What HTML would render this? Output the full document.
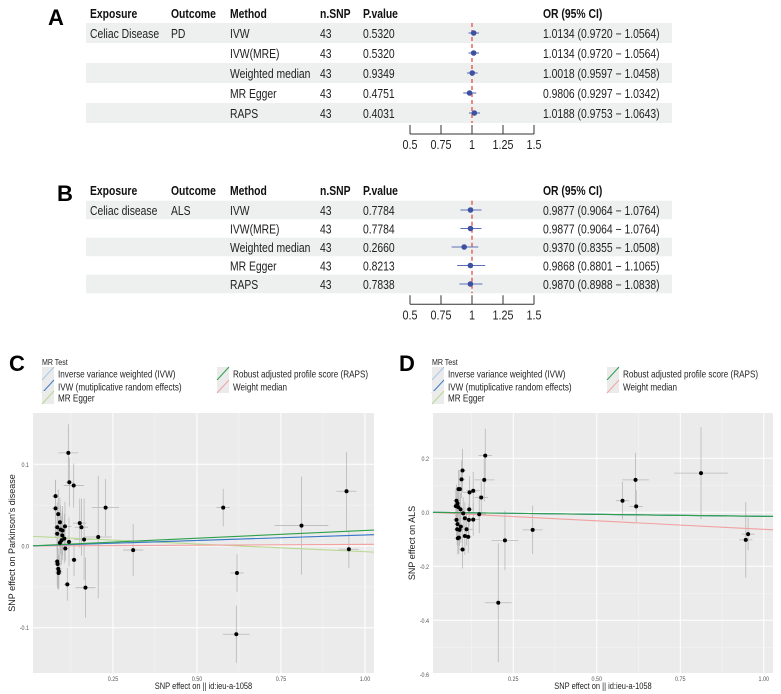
<!DOCTYPE html>
<html><head><meta charset="utf-8">
<style>
html,body{margin:0;padding:0;background:#fff;}
svg{display:block;font-family:"Liberation Sans",Arial,sans-serif;}
</style></head>
<body>
<svg id="fig" width="781" height="694" viewBox="0 0 781 694" xmlns="http://www.w3.org/2000/svg"></svg>
<script>
// ---------- Forest data ----------
const methods = ["IVW","IVW(MRE)","Weighted median","MR Egger","RAPS"];
const nsnpA = [43,43,43,43,43];
const pvalA = ["0.5320","0.5320","0.9349","0.4751","0.4031"];
const orA = [1.0134,1.0134,1.0018,0.9806,1.0188];
const loA = [0.9720,0.9720,0.9597,0.9297,0.9753];
const hiA = [1.0564,1.0564,1.0458,1.0342,1.0643];
const nsnpB = [43,43,43,43,43];
const pvalB = ["0.7784","0.7784","0.2660","0.8213","0.7838"];
const orB = [0.9877,0.9877,0.9370,0.9868,0.9870];
const loB = [0.9064,0.9064,0.8355,0.8801,0.8988];
const hiB = [1.0764,1.0764,1.0508,1.1065,1.0838];
const forestTicks = [0.5,0.75,1,1.25,1.5];

// ---------- Scatter C data ----------
const cx = [0.117,0.12,0.133,0.079,0.079,0.087,0.092,0.084,0.107,0.151,0.156,0.094,0.1,0.084,0.099,0.105,0.097,0.092,0.119,0.164,0.206,0.228,0.108,0.134,0.084,0.085,0.087,0.089,0.088,0.114,0.168,0.31,0.578,0.619,0.617,0.811,0.945,0.952];
const cy = [0.114,0.078,0.074,0.061,0.046,0.039,0.029,0.023,0.024,0.028,0.023,0.020,0.019,0.015,0.013,0.009,0.007,0.004,0.005,0.008,0.011,0.047,-0.003,-0.017,-0.019,-0.022,-0.028,-0.031,-0.033,-0.047,-0.051,-0.005,0.047,-0.033,-0.108,0.025,0.067,-0.004];
const cxe = [0.03,0.01,0.03,0.01,0.01,0.01,0.01,0.01,0.02,0.02,0.02,0.01,0.01,0.01,0.01,0.01,0.01,0.01,0.01,0.03,0.04,0.04,0.01,0.01,0.01,0.01,0.01,0.01,0.01,0.01,0.03,0.03,0.02,0.02,0.04,0.08,0.03,0.03];
const cye = [0.035,0.03,0.027,0.02,0.035,0.03,0.03,0.03,0.03,0.03,0.035,0.03,0.03,0.03,0.03,0.03,0.03,0.03,0.03,0.05,0.075,0.035,0.015,0.02,0.03,0.03,0.025,0.02,0.02,0.02,0.037,0.032,0.023,0.023,0.035,0.06,0.048,0.023];
const linesC = {ivw:[0,0.0135], mre:[0,0.0135], egger:[0.012,-0.019], raps:[0,0.019], wm:[0,0.002]};

// ---------- Scatter D data ----------
const dx = [0.166,0.163,0.098,0.095,0.086,0.09,0.13,0.119,0.154,0.08,0.083,0.078,0.085,0.092,0.118,0.1,0.148,0.105,0.117,0.13,0.08,0.083,0.093,0.082,0.089,0.11,0.105,0.115,0.087,0.084,0.098,0.225,0.205,0.308,0.577,0.616,0.618,0.812,0.953,0.946];
const dy = [0.21,0.12,0.155,0.122,0.086,0.086,0.08,0.074,0.055,0.043,0.033,0.023,0.019,0.011,0.011,-0.004,-0.007,-0.022,-0.028,-0.027,-0.028,-0.044,-0.053,-0.063,-0.065,-0.063,-0.088,-0.091,-0.094,-0.096,-0.138,-0.104,-0.335,-0.065,0.043,0.12,0.022,0.145,-0.081,-0.102];
const dxe = [0.02,0.03,0.01,0.01,0.01,0.01,0.02,0.02,0.02,0.01,0.01,0.01,0.01,0.01,0.01,0.01,0.02,0.01,0.02,0.02,0.01,0.01,0.01,0.01,0.01,0.02,0.01,0.01,0.01,0.01,0.01,0.04,0.04,0.03,0.02,0.04,0.02,0.08,0.02,0.02];
const dye = [0.1,0.08,0.08,0.07,0.07,0.07,0.07,0.06,0.06,0.06,0.06,0.06,0.06,0.06,0.06,0.06,0.07,0.06,0.06,0.06,0.06,0.06,0.06,0.06,0.06,0.06,0.07,0.06,0.06,0.06,0.07,0.11,0.22,0.09,0.07,0.1,0.06,0.17,0.06,0.14];
const linesD = {ivw:[0,-0.015], mre:[0,-0.015], egger:[0,-0.015], raps:[0,-0.015], wm:[0,-0.063]};
const xTicksS = [0.25,0.5,0.75,1.0];
const xTickLab = ["0.25","0.50","0.75","1.00"];
const yTicksC = [0.1,0.0,-0.1];
const yTickLabC = ["0.1","0.0","-0.1"];
const yTicksD = [0.2,0.0,-0.2,-0.4,-0.6];
const yTickLabD = ["0.2","0.0","-0.2","-0.4","-0.6"];

const NS="http://www.w3.org/2000/svg";
const svg=document.getElementById('fig');
function el(tag,attrs,parent,text){const e=document.createElementNS(NS,tag);for(const k in attrs)e.setAttribute(k,attrs[k]);if(text!==undefined)e.textContent=text;(parent||svg).appendChild(e);return e;}

// ---------- Forest panels ----------
function forest(letter,letterX,letterY,headY,rowY,rowH,exposure,outcome,nsnp,pv,or,lo,hi){
  const g=el('g',{});
  
  
  const fx=v=>472+(v-1)*124;
  const t=el('text',{x:letterX,y:letterY+8,'font-size':22,'font-weight':'bold','data-noscale':'1'},g,letter);
  
  const heads=[["Exposure",90],["Outcome",171],["Method",230],["n.SNP",320],["P.value",363],["OR (95% CI)",543]];
  heads.forEach(h=>{const e=el('text',{x:h[1],y:headY+5,'font-size':12.5,'font-weight':'bold',fill:'#111'},g,h[0]);
    });
  for(let i=0;i<methods.length;i++){
    const y=rowY[i];
    if(i%2===0){const r=el('rect',{x:86,y:y-rowH/2,width:586,height:rowH,fill:'#edf0ef'},g);
      }
    if(i===0){el('text',{x:90,y:y+5,'font-size':12.5,fill:'#222'},g,exposure);el('text',{x:171,y:y+5,'font-size':12.5,fill:'#222'},g,outcome);}
    el('text',{x:230,y:y+5,'font-size':12.5,fill:'#222'},g,methods[i]);
    el('text',{x:320,y:y+5,'font-size':12.5,fill:'#222'},g,String(nsnp[i]));
    el('text',{x:363,y:y+5,'font-size':12.5,fill:'#222'},g,pv[i]);
    el('text',{x:543,y:y+5,'font-size':12.5,fill:'#222'},g,or[i].toFixed(4)+" ("+lo[i].toFixed(4)+" \u2212 "+hi[i].toFixed(4)+")");
  }
  const top=rowY[0]-rowH/2, bot=rowY[4]+rowH/2;
  const ref=el('line',{x1:fx(1),x2:fx(1),y1:top,y2:bot,stroke:'#e0413a','stroke-width':1.2,'stroke-dasharray':'4,3'},g);
  
  for(let i=0;i<methods.length;i++){
    const y=rowY[i];
    const ci=el('line',{x1:fx(lo[i]),x2:fx(hi[i]),y1:y,y2:y,stroke:'#5a6fb8','stroke-width':1.1},g);
    
    const pt=el('circle',{cx:fx(or[i]),cy:y,r:2.8,fill:'#3e51a0'},g);
    
  }
  const ay=bot+2;
  const ax=el('line',{x1:fx(0.5),x2:fx(1.5),y1:ay+9,y2:ay+9,stroke:'#333','stroke-width':1},g);
  
  forestTicks.forEach(v=>{el('line',{x1:fx(v),x2:fx(v),y1:ay,y2:ay+9,stroke:'#333'},g);
    const tl=el('text',{x:fx(v),y:ay+24,'font-size':13,'text-anchor':'middle',fill:'#222'},g,String(v));
    });
}
forest("A",48,17,13,[33,53,73,93,113],20,"Celiac Disease","PD",nsnpA,pvalA,orA,loA,hiA);
forest("B",57,193,190,[210,228.5,247,265.5,284],18.5,"Celiac disease","ALS",nsnpB,pvalB,orB,loB,hiB);

// ---------- Scatter panels ----------
const lineCols={ivw:'#a6c8e8',mre:'#3a78c4',egger:'#b8d890',raps:'#2ea04a',wm:'#f2a0a0'};
function scatter(letter,ox,L,R,T,B,x0,pxPerX,y0px,pxPerY,xs,ys,xe,ye,lines,yt,ytl,ytitle){
  const g=el('g',{});
  
  
  const sx=v=>x0+v*pxPerX, sy=v=>y0px-v*pxPerY;
  const lt=el('text',{x:ox+9,y:371,'font-size':22,'font-weight':'bold','data-noscale':'1'},g,letter);
  
  const lg=el('g',{},g);
  el('text',{x:ox+42,y:365,'font-size':8.5,fill:'#222'},lg,"MR Test");
  const items=[["Inverse variance weighted (IVW)",'ivw',ox+42,374],["IVW (mutiplicative random effects)",'mre',ox+42,387],["MR Egger",'egger',ox+42,398],["Robust adjusted profile score (RAPS)",'raps',ox+217,374],["Weight median",'wm',ox+217,387]];
  items.forEach(it=>{
    el('rect',{x:it[2],y:it[3]-7,width:12,height:13,fill:'#ebebeb'},lg);
    el('line',{x1:it[2],y1:it[3]+6,x2:it[2]+12,y2:it[3]-7,stroke:lineCols[it[1]],'stroke-width':1},lg);
    const tx=el('text',{x:it[2]+16,y:it[3]+3.5,'font-size':9.8,fill:'#222'},lg,it[0]);
    
  });
  const bg=el('rect',{x:L,y:T,width:R-L,height:B-T,fill:'#ebebeb'},g);
  
  const minorX=[0.125,0.375,0.625,0.875];
  minorX.forEach(v=>el('line',{x1:sx(v),x2:sx(v),y1:T,y2:B,stroke:'#f5f5f5','stroke-width':0.5},g));
  for(let i=0;i<yt.length-1;i++){const m=(yt[i]+yt[i+1])/2;el('line',{x1:L,x2:R,y1:sy(m),y2:sy(m),stroke:'#f5f5f5','stroke-width':0.5},g);}
  xTicksS.forEach((v,i)=>{el('line',{x1:sx(v),x2:sx(v),y1:T,y2:B,stroke:'#fff','stroke-width':1},g);
    const tl=el('text',{x:sx(v),y:B+8,'font-size':6.5,'text-anchor':'middle',fill:'#555'},g,xTickLab[i]);
    });
  yt.forEach((v,i)=>{el('line',{x1:L,x2:R,y1:sy(v),y2:sy(v),stroke:'#fff','stroke-width':1},g);
    const tl=el('text',{x:L-4,y:sy(v)+2.5,'font-size':6.5,'text-anchor':'end',fill:'#555'},g,ytl[i]);
    });
  const xt=el('text',{x:(L+R)/2,y:B+16,'font-size':9,'text-anchor':'middle',fill:'#222'},g,"SNP effect on  || id:ieu-a-1058");
  
  const ytt=el('text',{x:0,y:0,'font-size':9,'text-anchor':'middle',fill:'#222',transform:`translate(${L-18},${(T+B)/2}) rotate(-90)`},g,ytitle);
  
  const cg=el('g',{},g);cg.setAttribute('clip-path','url(#clip'+letter+')');
  const cp=el('clipPath',{id:'clip'+letter},g);el('rect',{x:L,y:T,width:R-L,height:B-T},cp);
  for(let i=0;i<xs.length;i++){
    el('line',{x1:sx(xs[i]-xe[i]),x2:sx(xs[i]+xe[i]),y1:sy(ys[i]),y2:sy(ys[i]),stroke:'#b8b8b8','stroke-width':0.8},cg);
    el('line',{x1:sx(xs[i]),x2:sx(xs[i]),y1:sy(ys[i]-ye[i]),y2:sy(ys[i]+ye[i]),stroke:'#b8b8b8','stroke-width':0.8},cg);
  }
  const xmin=(L-x0)/pxPerX, xmax=(R-x0)/pxPerX;
  ['egger','wm','ivw','mre','raps'].forEach(k=>{const [a,b]=lines[k];
    const ln=el('line',{x1:L,y1:sy(a+b*xmin),x2:R,y2:sy(a+b*xmax),stroke:lineCols[k],'stroke-width':1.1},cg);
    });
  for(let i=0;i<xs.length;i++){
    const p=el('circle',{cx:sx(xs[i]),cy:sy(ys[i]),r:2,fill:'#000'},cg);
    
  }
}
scatter("C",0,33,374,413,673,29,336,546,817,cx,cy,cxe,cye,linesC,yTicksC,yTickLabC,"SNP effect on Parkinson's disease");
scatter("D",390,433,773,413,673,429.8,334,512.3,270,dx,dy,dxe,dye,linesD,yTicksD,yTickLabD,"SNP effect on ALS");

// condense text horizontally to match the narrower reference font
svg.querySelectorAll('text').forEach(t=>{
  if(t.hasAttribute('transform')||t.hasAttribute('data-noscale'))return;
  const x=t.getAttribute('x'),y=t.getAttribute('y');
  t.setAttribute('x',0);t.setAttribute('y',0);
  t.setAttribute('transform',`translate(${x},${y}) scale(0.83,1)`);
});
</script>
</body></html>
